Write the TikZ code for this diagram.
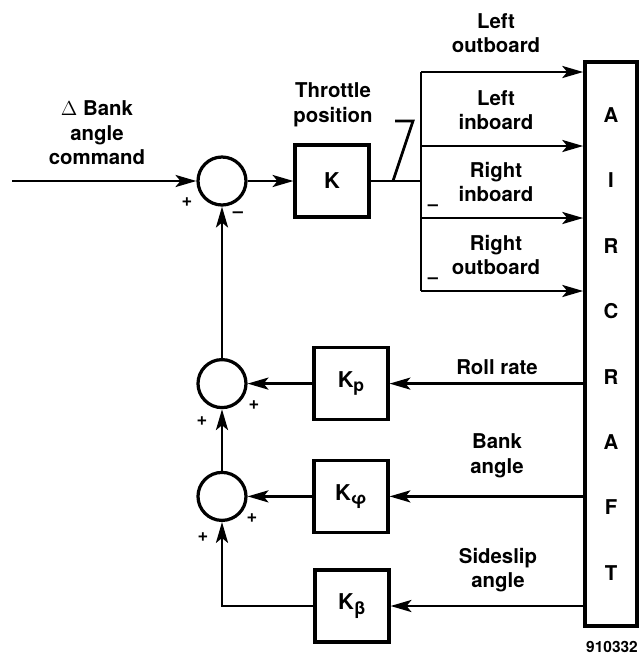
\documentclass[tikz,border=0pt]{standalone}
\usepackage{fontspec}
\setmainfont{TeX Gyre Heros}
\usepackage{tikz}
\usetikzlibrary{arrows.meta, calc}

\newcommand{\gsub}[1]{{\fontsize{12.5}{14}\selectfont\raisebox{-0.45ex}{#1}}}

\begin{document}
\begin{tikzpicture}[
    gain/.style={rectangle, draw, line width=2.2pt, minimum width=1.85cm, minimum height=1.8cm, inner sep=0pt, font=\fontsize{15.5}{18}\selectfont\bfseries},
    sum/.style={circle, draw, line width=2.3pt, minimum size=1.2cm, inner sep=0pt},
    plant/.style={rectangle, draw, line width=2.6pt, minimum width=1.3cm, minimum height=14.1cm, inner sep=0pt},
    lbl/.style={align=center, inner sep=0pt},
    sgn/.style={inner sep=0pt, font=\fontsize{13}{15}\selectfont\bfseries},
    arr/.style={-{Stealth[length=0.52cm, width=0.3cm, inset=0.12cm]}, line width=2pt},
    wire/.style={line width=2pt},
    font=\fontsize{14.5}{17.5}\selectfont\bfseries
]
\useasboundingbox (0,0) rectangle (15.975,-16.5);

% Forward path
\coordinate (start) at (0.3,-4.525);
\node[lbl] (cmd) at (2.425,-3.325) {$\Delta$ Bank\\angle\\command};
\node[sum] (sum1) at (5.55,-4.525) {};
\node[gain] (k) at (8.3,-4.525) {K};
\node[lbl] (thr) at (8.325,-2.625) {Throttle\\position};

% Engine bus
\coordinate (split) at (10.525,-4.525);
\coordinate (lo) at (10.525,-1.8);
\coordinate (li) at (10.525,-3.65);
\coordinate (ri) at (10.525,-5.45);
\coordinate (ro) at (10.525,-7.275);
\coordinate (tp1) at (9.875,-3.025);
\coordinate (tp2) at (10.325,-3.025);
\coordinate (tp3) at (9.825,-4.525);

\node[lbl] (lolbl) at (12.4,-0.825) {Left\\outboard};
\node[lbl] (lilbl) at (12.4,-2.75) {Left\\inboard};
\node[lbl] (rilbl) at (12.4,-4.55) {Right\\inboard};
\node[lbl] (rolbl) at (12.4,-6.375) {Right\\outboard};
\node[sgn] (rim) at (10.825,-5.2) {--};
\node[sgn] (rom) at (10.825,-7.025) {--};

% Aircraft
\node[plant] (aircraft) at (15.275,-8.6) {};
\foreach \l [count=\i] in {A,I,R,C,R,A,F,T}
    \node (ac\i) at (15.275,{-2.875-1.635*(\i-1)}) {\l};

% Feedback gains
\node[sum] (sum2) at (5.55,-9.59) {};
\node[sum] (sum3) at (5.55,-12.41) {};
\node[gain] (kp) at (8.775,-9.59) {K\gsub{p}};
\node[gain] (kphi) at (8.775,-12.41) {K\gsub{φ}};
\node[gain] (kb) at (8.8,-15.15) {K\gsub{β}};
\node[lbl] (rr) at (12.425,-9.175) {Roll rate};
\node[lbl] (ba) at (12.425,-11.4) {Bank\\angle};
\node[lbl] (sa) at (12.45,-14.25) {Sideslip\\angle};

% Signs
\node[sgn] (p1) at (4.675,-5.05) {+};
\node[sgn] (m1) at (5.95,-5.375) {--};
\node[sgn] (p2r) at (6.35,-10.125) {+};
\node[sgn] (p2l) at (5.05,-10.525) {+};
\node[sgn] (p3r) at (6.3,-12.95) {+};
\node[sgn] (p3l) at (5.075,-13.425) {+};

\node[inner sep=0pt, font=\fontsize{11}{13}\selectfont\bfseries] (fig) at (15.3,-16.175) {910332};

% Arrows
\draw[arr] (start) -- (sum1);
\draw[arr] (sum1) -- (k);
\draw[wire] (k) -- (split);
\draw[wire] (lo) -- (ro);
\draw[wire] (tp1) -- (tp2) -- (tp3);
\draw[arr] (lo) -- (lo -| aircraft.west);
\draw[arr] (li) -- (li -| aircraft.west);
\draw[arr] (ri) -- (ri -| aircraft.west);
\draw[arr] (ro) -- (ro -| aircraft.west);

\draw[arr] (aircraft.west |- kp) -- (kp);
\draw[arr] (aircraft.west |- kphi) -- (kphi);
\draw[arr] (aircraft.west |- kb) -- (kb);
\draw[arr] (kp) -- (sum2);
\draw[arr] (kphi) -- (sum3);
\draw[arr] (kb) -| (sum3);
\draw[arr] (sum3) -- (sum2);
\draw[arr] (sum2) -- (sum1);
\end{tikzpicture}
\end{document}
